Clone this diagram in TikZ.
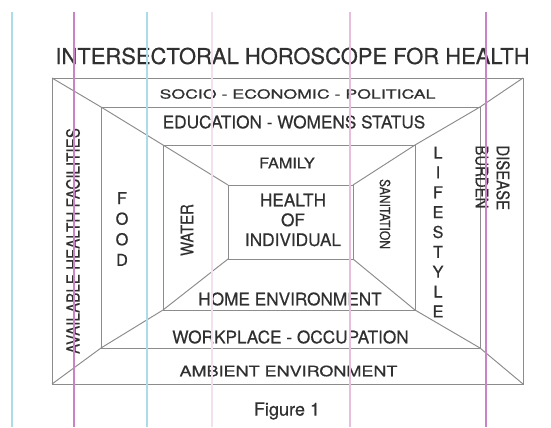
\documentclass[tikz,border=0pt]{standalone}
\usepackage{fontspec}
\setmainfont[FakeBold=0.5]{TeX Gyre Heros}
\usetikzlibrary{positioning}
\definecolor{HoroEdge}{HTML}{8C8C8C}
\definecolor{HoroInk}{HTML}{303030}
\definecolor{RuleCyan}{HTML}{ACDCEA}
\definecolor{RuleMagenta}{HTML}{C984C6}
\definecolor{RulePink}{HTML}{E6BEDE}
\definecolor{RuleFaint}{HTML}{F3E0EE}

\begin{document}
\begin{tikzpicture}[x=0.02cm,y=-0.02cm,
  wall/.style={draw=HoroEdge,line width=0.55pt},
  band/.style={text=HoroInk,inner sep=0pt,font=\fontsize{9.8}{11}\selectfont},
  upright/.style={band,rotate=90},
  downright/.style={band,rotate=-90},
  letters/.style={band,align=center},
  ruling/.style={line width=0.6pt},
]
\useasboundingbox (0,0) rectangle (551,427);

% nested frames, outside in: top left and bottom right corners
\coordinate (otl) at (52,78);   \coordinate (obr) at (523,384);
\coordinate (stl) at (101,107); \coordinate (sbr) at (480,348);
\coordinate (ttl) at (163,145); \coordinate (tbr) at (415,310);
\coordinate (itl) at (228,185); \coordinate (ibr) at (353,259);

\draw[wall] (otl) rectangle (obr);
\draw[wall] (stl) rectangle (sbr);
\draw[wall] (ttl) rectangle (tbr);
\draw[wall] (itl) rectangle (ibr);
% perspective lines through the corners
\draw[wall] (otl) -- (stl) -- (ttl) -- (itl);
\draw[wall] (otl -| obr) -- (stl -| sbr) -- (ttl -| tbr) -- (itl -| ibr);
\draw[wall] (otl |- obr) -- (stl |- sbr) -- (ttl |- tbr) -- (itl |- ibr);
\draw[wall] (obr) -- (sbr) -- (tbr) -- (ibr);

\node[band,font=\fontsize{12.5}{14}\selectfont] (title) at (292.5,56) {INTERSECTORAL HOROSCOPE FOR HEALTH};

% horizontal bands
\node[band,font=\fontsize{7.1}{8}\selectfont] (socio) at (297.5,94) {\scalebox{1.42}[1]{SOCIO - ECONOMIC - POLITICAL}};
\node[band] (educ) at (294,122) {EDUCATION - WOMENS STATUS};
\node[band,font=\fontsize{8.4}{10}\selectfont] (family) at (287,163) {\scalebox{1.1}[1]{FAMILY}};
\node[letters,font=\fontsize{9.8}{11.3}\selectfont] (self) at (293,220) {HEALTH\\OF\\INDIVIDUAL};
\node[band] (home) at (290,299) {HOME ENVIRONMENT};
\node[band] (work) at (290.5,337) {WORKPLACE - OCCUPATION};
\node[band,font=\fontsize{8.2}{10}\selectfont] (ambient) at (288.5,371) {\scalebox{1.25}[1]{AMBIENT ENVIRONMENT}};

% vertical bands
\node[upright,font=\fontsize{10.4}{12}\selectfont] (facilities) at (73,241) {\scalebox{0.83}[1]{AVAILABLE HEALTH FACILITIES}};
\node[letters,font=\fontsize{9.3}{11.7}\selectfont] (food) at (122,229) {F\\O\\O\\D};
\node[upright,font=\fontsize{10}{12}\selectfont] (water) at (187,230) {\scalebox{0.85}[1]{WATER}};
\node[downright,font=\fontsize{8}{10}\selectfont] (sanitation) at (385,214) {\scalebox{0.86}[1]{SANITATION}};
\node[letters,font=\fontsize{9.3}{11.3}\selectfont] (lifestyle) at (438,232) {L\\I\\F\\E\\S\\T\\Y\\L\\E};
\node[downright,align=left,anchor=west,font=\fontsize{10}{12}\selectfont] (burden) at (492.5,145)
  {\scalebox{0.85}[1]{DISEASE}\\\scalebox{0.85}[1]{BURDEN}};

\node[band,font=\fontsize{10.3}{12}\selectfont] (caption) at (287,411) {Figure 1};

% ruled lines of the sheet
\foreach \x/\c in {12/RuleCyan,147/RuleCyan,74/RuleMagenta,212/RuleFaint,350/RulePink,486/RuleMagenta}
  \draw[ruling,\c] (\x,12) -- (\x,427);
\end{tikzpicture}
\end{document}
